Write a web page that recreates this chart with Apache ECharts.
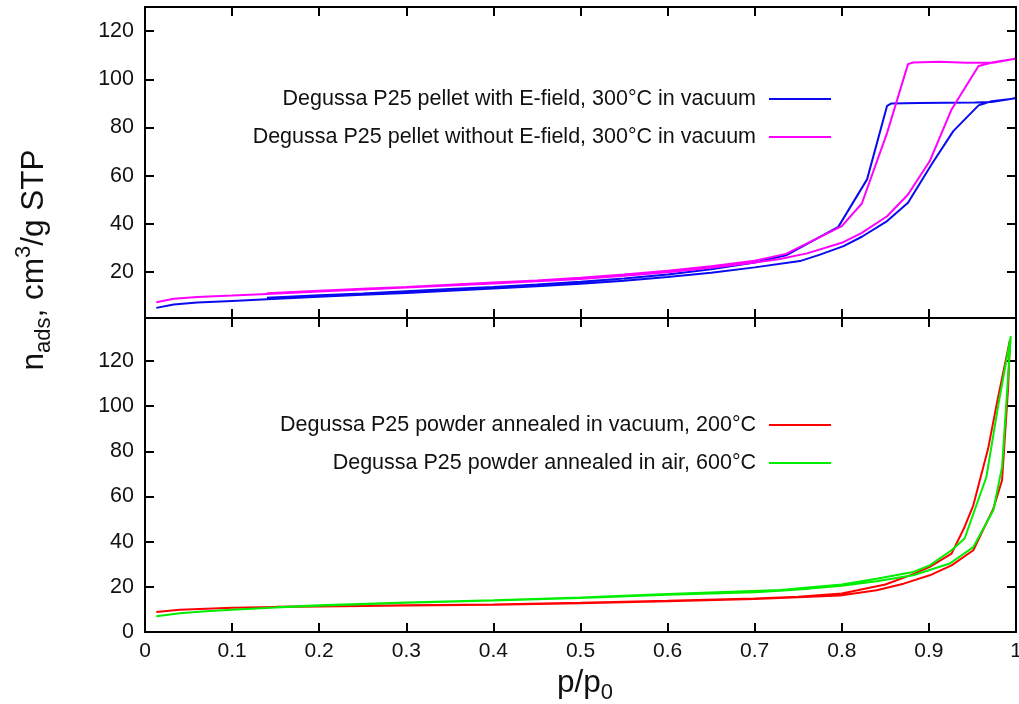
<!DOCTYPE html>
<html>
<head>
<meta charset="utf-8">
<title>N2 adsorption isotherms, Degussa P25</title>
<script src="https://cdn.jsdelivr.net/npm/echarts@6/dist/echarts.min.js"></script>
<style>
  html, body { margin: 0; padding: 0; background: #ffffff; }
  #chart { width: 1019px; height: 704px; }
</style>
</head>
<body>
<div id="chart"></div>
<script>
// Isotherms as [p/p0, n_ads] pairs: adsorption branch first, then desorption back down.
const pelletWithField = [
  [0.013, 5.2], [0.033, 6.6], [0.06, 7.4], [0.1, 8.1], [0.14, 8.8], [0.2, 9.8], [0.25, 10.6],
  [0.3, 11.4], [0.35, 12.3], [0.4, 13.2], [0.45, 14.2], [0.5, 15.2], [0.55, 16.5], [0.6, 18.0],
  [0.65, 19.8], [0.7, 22.0], [0.752, 24.6], [0.775, 27.3], [0.802, 30.8], [0.823, 34.7],
  [0.852, 41.2], [0.876, 48.8], [0.903, 64.7], [0.928, 78.5], [0.957, 89.2], [0.972, 90.9],
  [0.999, 92.1],
  [0.972, 90.6], [0.953, 90.4], [0.92, 90.3], [0.888, 90.2], [0.857, 90.0], [0.852, 89.0],
  [0.829, 58.5], [0.796, 38.8], [0.736, 27.0], [0.7, 24.0], [0.65, 21.2], [0.6, 19.0],
  [0.55, 17.4], [0.5, 16.0], [0.45, 14.9], [0.4, 13.9], [0.35, 13.0], [0.3, 12.1],
  [0.25, 11.2], [0.2, 10.4], [0.14, 9.4]
];
const pelletWithoutField = [
  [0.013, 7.5], [0.033, 9.0], [0.06, 9.7], [0.1, 10.3], [0.14, 11.0], [0.2, 12.0], [0.25, 12.8],
  [0.3, 13.6], [0.35, 14.5], [0.4, 15.3], [0.45, 16.2], [0.5, 17.2], [0.55, 18.5], [0.6, 20.0],
  [0.65, 21.8], [0.7, 24.0], [0.729, 25.5], [0.76, 27.8], [0.8, 32.2], [0.823, 36.3],
  [0.852, 43.2], [0.876, 52.2], [0.901, 66.1], [0.926, 87.5], [0.957, 105.5], [0.974, 107.1],
  [0.999, 108.5],
  [0.974, 106.9], [0.943, 106.9], [0.912, 107.3], [0.882, 107.0], [0.876, 106.3],
  [0.852, 77.8], [0.823, 48.5], [0.8, 39.1], [0.736, 27.6], [0.7, 24.8], [0.65, 22.5],
  [0.6, 20.6], [0.55, 19.0], [0.5, 17.7], [0.45, 16.6], [0.4, 15.7], [0.35, 14.8],
  [0.3, 13.9], [0.25, 13.1], [0.2, 12.3], [0.14, 11.3]
];
const powderVacuum = [
  [0.013, 8.9], [0.04, 9.8], [0.07, 10.3], [0.1, 10.7], [0.15, 11.1], [0.2, 11.3], [0.3, 11.7],
  [0.4, 12.1], [0.5, 12.7], [0.6, 13.6], [0.7, 14.6], [0.75, 15.4], [0.798, 16.2], [0.84, 18.5],
  [0.871, 21.4], [0.901, 25.1], [0.926, 29.5], [0.951, 36.2], [0.974, 54.6], [0.984, 67.2],
  [0.991, 108.5], [0.993, 129.2],
  [0.978, 101.2], [0.968, 81.2], [0.951, 56.1], [0.941, 46.5], [0.926, 34.7], [0.901, 28.8],
  [0.882, 25.6], [0.85, 21.0], [0.8, 17.0], [0.75, 15.6], [0.7, 14.8], [0.6, 13.8],
  [0.5, 12.9], [0.4, 12.2], [0.3, 11.8], [0.2, 11.4], [0.15, 11.2]
];
const powderAir = [
  [0.013, 7.0], [0.04, 8.3], [0.07, 9.2], [0.1, 9.9], [0.15, 10.8], [0.2, 11.6], [0.3, 12.9],
  [0.4, 13.9], [0.5, 15.1], [0.6, 16.5], [0.7, 17.6], [0.729, 18.3], [0.763, 19.2], [0.8, 20.5],
  [0.84, 22.5], [0.882, 25.1], [0.924, 30.3], [0.951, 37.6], [0.974, 53.9], [0.984, 73.1],
  [0.994, 130.9],
  [0.98, 101.2], [0.966, 68.6], [0.941, 41.4], [0.926, 36.2], [0.901, 29.5], [0.882, 26.6],
  [0.84, 23.6], [0.8, 21.0], [0.729, 18.6], [0.6, 16.8], [0.5, 15.3], [0.4, 14.1],
  [0.3, 13.1], [0.2, 11.8], [0.15, 11.0]
];

const topNames = [
  'Degussa P25 pellet with E-field, 300°C in vacuum',
  'Degussa P25 pellet without E-field, 300°C in vacuum'
];
const bottomNames = [
  'Degussa P25 powder annealed in vacuum, 200°C',
  'Degussa P25 powder annealed in air, 600°C'
];
const topYTicks = [20, 40, 60, 80, 100, 120];
const bottomYTicks = [0, 20, 40, 60, 80, 100, 120];
const xRange = [0, 1];
const xStep = 0.1;
const topYRange = [1, 130];
const bottomYRange = [0, 139];

const FONT = 'Liberation Sans, Arial, Helvetica, sans-serif';
const INK = '#111111';

const chart = echarts.init(document.getElementById('chart'), null, { renderer: 'canvas' });

function frameAxis(extra) {
  return Object.assign({
    type: 'value',
    axisLine: { show: true, onZero: false, lineStyle: { color: '#000', width: 2 } },
    axisTick: { show: true, inside: true, length: 9, lineStyle: { color: '#000', width: 2 } },
    axisLabel: { show: false },
    splitLine: { show: false }
  }, extra);
}

const xLabel = {
  show: true, color: INK, fontSize: 21, fontFamily: FONT, margin: 9,
  formatter: v => String(Math.round(v * 10) / 10)
};
const yLabel = { show: true, color: INK, fontSize: 21.5, fontFamily: FONT, margin: 11 };

function yAxisFor(grid, range, ticks, position, labelled) {
  return frameAxis({
    gridIndex: grid, position: position, min: range[0], max: range[1],
    axisTick: { show: true, inside: true, length: 9, customValues: ticks,
                lineStyle: { color: '#000', width: 2 } },
    axisLabel: labelled ? Object.assign({ customValues: ticks }, yLabel) : { show: false }
  });
}

function xAxisFor(grid, position, labelled) {
  return frameAxis({
    gridIndex: grid, position: position, min: xRange[0], max: xRange[1], interval: xStep,
    axisLabel: labelled ? xLabel : { show: false }
  });
}

function isotherm(name, data, color, axisIdx) {
  return {
    type: 'line', name: name, data: data,
    xAxisIndex: axisIdx, yAxisIndex: axisIdx,
    symbol: 'none', smooth: false, clip: true, animation: false,
    lineStyle: { color: color, width: 2 },
    itemStyle: { color: color }
  };
}

function legendFor(names, top) {
  return {
    data: names, orient: 'vertical', align: 'right',
    right: 188, top: top, padding: 0,
    icon: 'rect', itemWidth: 62, itemHeight: 2, itemGap: 16,
    selectedMode: false,
    textStyle: { color: INK, fontSize: 21.5, lineHeight: 21, fontFamily: FONT, padding: [0, 8, 0, 0] }
  };
}

const option = {
  backgroundColor: '#ffffff',
  animation: false,
  grid: [
    { left: 145, right: 3, top: 7, height: 311, outerBoundsMode: 'none' },
    { left: 145, right: 3, top: 318, height: 314, outerBoundsMode: 'none' }
  ],
  xAxis: [
    xAxisFor(0, 'bottom', false),
    xAxisFor(0, 'top', false),
    xAxisFor(1, 'bottom', true),
    xAxisFor(1, 'top', false)
  ],
  yAxis: [
    yAxisFor(0, topYRange, topYTicks, 'left', true),
    yAxisFor(0, topYRange, topYTicks, 'right', false),
    yAxisFor(1, bottomYRange, bottomYTicks, 'left', true),
    yAxisFor(1, bottomYRange, bottomYTicks, 'right', false)
  ],
  legend: [legendFor(topNames, 88), legendFor(bottomNames, 414)],
  series: [
    isotherm(topNames[0], pelletWithField, '#0a0af0', 0),
    isotherm(topNames[1], pelletWithoutField, '#ff00ff', 0),
    isotherm(bottomNames[0], powderVacuum, '#ff0000', 2),
    isotherm(bottomNames[1], powderAir, '#00ee00', 2)
  ],
  graphic: [
    {
      type: 'text', x: 34, y: 260, rotation: Math.PI / 2,
      style: {
        text: '{m|n}{s|ads}{m|, cm}{p|3}{m|/g STP}',
        align: 'center', verticalAlign: 'middle', fill: INK,
        rich: {
          m: { fontSize: 31.5, fontFamily: FONT, fill: INK, lineHeight: 42, verticalAlign: 'middle' },
          s: { fontSize: 22, fontFamily: FONT, fill: INK, lineHeight: 21, verticalAlign: 'bottom' },
          p: { fontSize: 22, fontFamily: FONT, fill: INK, lineHeight: 21, verticalAlign: 'top' }
        }
      }
    },
    {
      type: 'text', x: 585, y: 683,
      style: {
        text: '{m|p/p}{s|0}',
        align: 'center', verticalAlign: 'middle', fill: INK,
        rich: {
          m: { fontSize: 31.5, fontFamily: FONT, fill: INK, lineHeight: 42, verticalAlign: 'middle' },
          s: { fontSize: 22, fontFamily: FONT, fill: INK, lineHeight: 21, verticalAlign: 'bottom' }
        }
      }
    }
  ]
};

chart.setOption(option);
</script>
</body>
</html>
